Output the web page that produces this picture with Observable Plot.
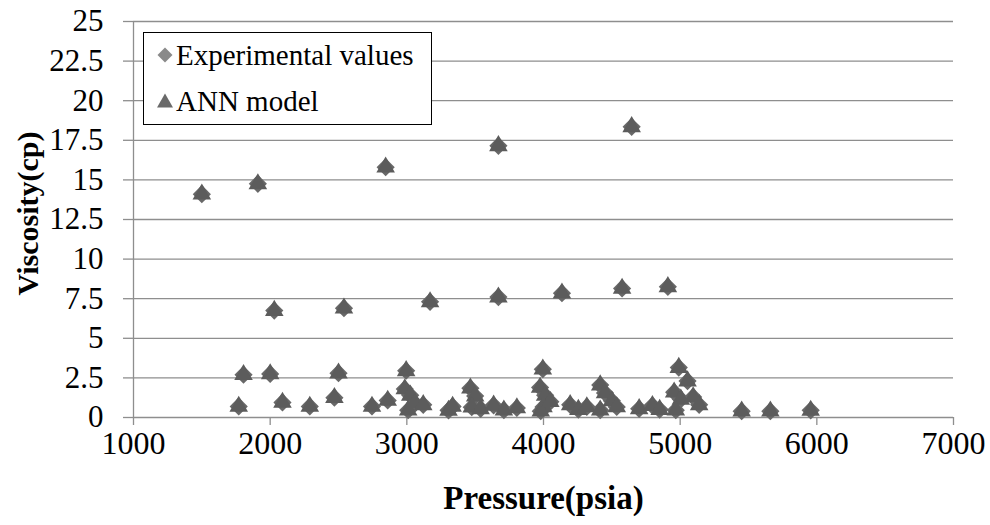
<!DOCTYPE html>
<html>
<head>
<meta charset="utf-8">
<script src="https://cdn.jsdelivr.net/npm/d3@7"></script>
<script src="https://cdn.jsdelivr.net/npm/@observablehq/plot@0.6"></script>
<style>
  html, body { margin: 0; padding: 0; background: #fff; }
  #wrap { position: relative; width: 990px; height: 525px; font-family: "Liberation Serif", "Times New Roman", serif; color: #000; }
  #chart svg, #chart svg text { font-family: "Liberation Serif", "Times New Roman", serif !important; }
  #legend { position: absolute; left: 143px; top: 32px; width: 289px; height: 93px; box-sizing: border-box;
            border: 1.5px solid #000; background: #fff; }
  .item { position: absolute; left: 0; height: 30px; display: flex; align-items: center; font-size: 29px; line-height: 30px; white-space: nowrap; }
  .item svg { margin-left: 12px; margin-right: 2px; }
</style>
</head>
<body>
<div id="wrap">
  <div id="chart"></div>
  <div id="legend"></div>
</div>
<script>
// ---- data ----
const pressure = [
  1500, 1910, 2845, 3670, 4645,
  2030, 2540, 3170, 3670, 4135, 4575, 4910,
  1770, 1805, 2000, 2090, 2290, 2470, 2500, 2745, 2860,
  2985, 2995, 3025, 3010, 3060, 3120, 3305, 3335,
  3465, 3500, 3475, 3540, 3635, 3710, 3805,
  3995, 3975, 4012, 4000, 3980, 4050,
  4195, 4255, 4317, 4415, 4450, 4500, 4536, 4415,
  4700, 4797, 4850,
  4990, 5054, 4956, 5005, 4968, 5139, 5095,
  5450, 5660, 5955
];
const experimental = [
  14.1, 14.75, 15.8, 17.15, 18.35,
  6.75, 6.9, 7.3, 7.6, 7.85, 8.15, 8.25,
  0.7, 2.7, 2.75, 0.95, 0.7, 1.25, 2.8, 0.7, 1.08,
  1.8, 2.95, 1.4, 0.46, 0.9, 0.8, 0.45, 0.7,
  1.85, 1.35, 0.65, 0.55, 0.77, 0.46, 0.6,
  3.05, 1.9, 1.4, 0.67, 0.4, 1.0,
  0.8, 0.5, 0.67, 2.05, 1.55, 1.05, 0.67, 0.46,
  0.55, 0.75, 0.5,
  3.15, 2.3, 1.6, 1.15, 0.46, 0.8, 1.3,
  0.4, 0.4, 0.45
];
const annModel = [
  14.1, 14.75, 15.8, 17.15, 18.35,
  6.75, 6.9, 7.3, 7.6, 7.85, 8.15, 8.25,
  0.7, 2.7, 2.75, 0.95, 0.7, 1.25, 2.8, 0.7, 1.08,
  1.8, 2.95, 1.4, 0.46, 0.9, 0.8, 0.45, 0.7,
  1.85, 1.35, 0.65, 0.55, 0.77, 0.46, 0.6,
  3.05, 1.9, 1.4, 0.67, 0.4, 1.0,
  0.8, 0.5, 0.67, 2.05, 1.55, 1.05, 0.67, 0.46,
  0.55, 0.75, 0.5,
  3.15, 2.3, 1.6, 1.15, 0.46, 0.8, 1.3,
  0.4, 0.4, 0.45
];
const xTicks = [1000, 2000, 3000, 4000, 5000, 6000, 7000];
const yTicks = [0, 2.5, 5, 7.5, 10, 12.5, 15, 17.5, 20, 22.5, 25];
const seriesNames = ["Experimental values", "ANN model"];
const xTitle = "Pressure(psia)";
const yTitle = "Viscosity(cp)";

const rows = pressure.map((p, i) => ({p, exp: experimental[i], ann: annModel[i]}));

const font = '"Liberation Serif", "Times New Roman", serif';
const gridColor = "#8e8e8e";
const diamondColor = "#686868";
const triangleColor = "#5c5c5c";

const chart = Plot.plot({
  width: 990,
  height: 525,
  marginLeft: 133,
  marginRight: 37,
  marginTop: 21,
  marginBottom: 108,
  style: {fontFamily: font, background: "#fff", color: "#000", overflow: "visible"},
  x: {domain: [1000, 7000]},
  y: {domain: [0, 25]},
  marks: [
    Plot.gridY(yTicks, {stroke: gridColor, strokeOpacity: 1, strokeWidth: 1.3}),
    Plot.ruleX([1000], {stroke: gridColor, strokeWidth: 1.3}),
    Plot.axisY(yTicks, {tickSize: 10, tickPadding: 20, stroke: gridColor, strokeWidth: 1.3,
      tickFormat: d => String(d), fontSize: 31, fontFamily: font, label: null, fill: "#000"}),
    Plot.axisX(xTicks, {tickSize: 8, tickPadding: 6, stroke: gridColor, strokeWidth: 1.3,
      tickFormat: d => String(d), fontSize: 32, fontFamily: font, label: null, fill: "#000"}),
    Plot.dot(rows, {x: "p", y: "exp", symbol: "diamond2", r: 8.2, fill: diamondColor, stroke: "none"}),
    Plot.dot(rows, {x: "p", y: "ann", symbol: "triangle", r: 6.9, fill: triangleColor, stroke: "none"}),
    Plot.text([xTitle], {frameAnchor: "bottom", textAnchor: "middle", dy: 91, fontSize: 33, fontWeight: "bold", fill: "#000", fontFamily: font}),
    Plot.text([yTitle], {frameAnchor: "left", textAnchor: "middle", dx: -105, dy: -6, rotate: -90, fontSize: 30, fontWeight: "bold", fill: "#000", fontFamily: font})
  ]
});
document.getElementById("chart").appendChild(chart);

// legend (inside the plot frame, as in the reference)
const legend = document.getElementById("legend");
const symbols = [
  `<svg width="18" height="18" viewBox="-9 -9 18 18"><path d="M0,-7.5L7.5,0L0,7.5L-7.5,0Z" fill="#8a8a8a"/></svg>`,
  `<svg width="18" height="18" viewBox="-9 -9 18 18"><path d="M0,-7.5L8,6.5L-8,6.5Z" fill="#6a6a6a"/></svg>`
];
const tops = [7, 53];
seriesNames.forEach((name, i) => {
  const div = document.createElement("div");
  div.className = "item";
  div.style.top = tops[i] + "px";
  div.innerHTML = symbols[i] + `<span>${name}</span>`;
  legend.appendChild(div);
});
</script>
</body>
</html>
